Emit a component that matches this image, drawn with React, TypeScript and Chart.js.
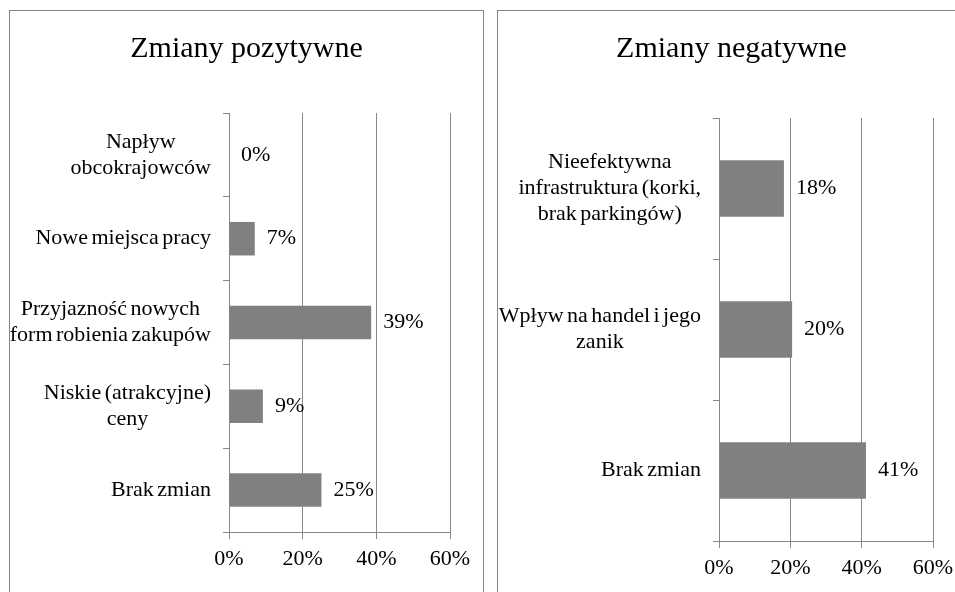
import React, { useEffect, useRef } from "react";
import { Chart, registerables } from "chart.js";

Chart.register(...registerables);

// ---- data ----
const posTitle = "Zmiany pozytywne";
const posCategories = [
  ["Napływ", "obcokrajowców"],
  ["Nowe miejsca pracy"],
  ["Przyjazność nowych", "form robienia zakupów"],
  ["Niskie (atrakcyjne)", "ceny"],
  ["Brak zmian"],
];
const posValues = [0, 7, 38.6, 9.2, 25.1];
const posValueLabels = ["0%", "7%", "39%", "9%", "25%"];

const negTitle = "Zmiany negatywne";
const negCategories = [
  ["Nieefektywna", "infrastruktura (korki,", "brak parkingów)"],
  ["Wpływ na handel i jego", "zanik"],
  ["Brak zmian"],
];
const negValues = [18.2, 20.5, 41.2];
const negValueLabels = ["18%", "20%", "41%"];

const xTickLabels = ["0%", "20%", "40%", "60%"];
const xMin = 0;
const xMax = 60;
const xStep = 20;

// ---- styles ----
const FONT = "'Liberation Serif', 'Times New Roman', serif";
const BAR = "#808080";
const LINE = "#888888";
const BORDER = "#868686";

type PanelProps = {
  title: string;
  categories: string[][];
  values: number[];
  valueLabels: string[];
  left: number;
  width: number;
  plotLeft: number;
  xAxisHeight: number;
  padSide: number;
  titlePadBottom: number;
};

const CANVAS_H = 581;

function Panel(p: PanelProps) {
  const ref = useRef<HTMLCanvasElement | null>(null);
  useEffect(() => {
    if (!ref.current) return;
    const catPlugin = {
      id: "catLabels",
      afterDraw(chart: any) {
        const ctx = chart.ctx as CanvasRenderingContext2D;
        const ys = chart.scales.y;
        const area = chart.chartArea;
        ctx.save();
        ctx.font = `22px ${FONT}`;
        try {
          (ctx as any).wordSpacing = "-2px";
        } catch (e) {}
        ctx.fillStyle = "#000";
        ctx.textBaseline = "middle";
        ctx.textAlign = "center";
        const lh = 26;
        p.categories.forEach((lines, i) => {
          const yc = ys.getPixelForValue(i);
          const w = Math.max(...lines.map((l) => ctx.measureText(l).width));
          const xc = area.left - 18 - w / 2;
          lines.forEach((l, j) => {
            ctx.fillText(l, xc, yc + (j - (lines.length - 1) / 2) * lh);
          });
        });
        ctx.restore();
      },
      afterDatasetsDraw(chart: any) {
        const ctx = chart.ctx as CanvasRenderingContext2D;
        const meta = chart.getDatasetMeta(0);
        ctx.save();
        ctx.font = `22px ${FONT}`;
        ctx.fillStyle = "#000";
        ctx.textBaseline = "middle";
        ctx.textAlign = "left";
        meta.data.forEach((el: any, i: number) => {
          ctx.fillText(p.valueLabels[i], el.x + 12, el.y);
        });
        ctx.restore();
      },
    };
    const chart = new Chart(ref.current, {
      type: "bar",
      data: {
        labels: p.categories,
        datasets: [
          {
            data: p.values,
            backgroundColor: BAR,
            borderWidth: 0,
            barPercentage: 0.4,
            categoryPercentage: 1,
          },
        ],
      },
      options: {
        indexAxis: "y",
        responsive: false,
        animation: false,
        layout: { padding: { top: 0, left: p.padSide, right: p.padSide, bottom: 0 } },
        plugins: {
          legend: { display: false },
          tooltip: { enabled: false },
          title: {
            display: true,
            text: p.title,
            color: "#000",
            font: { family: FONT, size: 30, weight: "normal", lineHeight: 1.2 },
            padding: { top: 20, bottom: p.titlePadBottom - 1 },
          },
        },
        scales: {
          x: {
            type: "linear",
            min: xMin,
            max: xMax,
            ticks: {
              stepSize: xStep,
              color: "#000",
              padding: 7,
              font: { family: FONT, size: 22, lineHeight: 1.2 },
              callback: (_v: any, i: number) => xTickLabels[i],
            },
            grid: { color: LINE, lineWidth: 1, drawTicks: true, tickLength: 7 },
            border: { display: true, color: LINE },
            afterFit: (s: any) => {
              s.height = p.xAxisHeight;
            },
          },
          y: {
            type: "category",
            ticks: { display: false },
            grid: {
              drawOnChartArea: false,
              drawTicks: true,
              tickLength: 6,
              color: LINE,
              offset: true,
            },
            border: { display: true, color: LINE },
            afterFit: (s: any) => {
              s.width = p.plotLeft - p.padSide;
            },
          },
        },
      },
      plugins: [catPlugin],
    } as any);
    return () => chart.destroy();
  }, []);
  return (
    <div
      style={{
        position: "fixed",
        left: p.left,
        top: 10,
        width: p.width,
        height: 620,
        border: `1px solid ${BORDER}`,
        background: "#fff",
      }}
    >
      <canvas ref={ref} width={p.width} height={CANVAS_H} style={{ display: "block" }} />
    </div>
  );
}

export default function App() {
  return (
    <div>
      <Panel
        title={posTitle}
        categories={posCategories}
        values={posValues}
        valueLabels={posValueLabels}
        left={9}
        width={473}
        plotLeft={219}
        xAxisHeight={60}
        padSide={33}
        titlePadBottom={47}
      />
      <Panel
        title={negTitle}
        categories={negCategories}
        values={negValues}
        valueLabels={negValueLabels}
        left={497}
        width={467}
        plotLeft={221}
        xAxisHeight={51}
        padSide={32}
        titlePadBottom={52}
      />
    </div>
  );
}
